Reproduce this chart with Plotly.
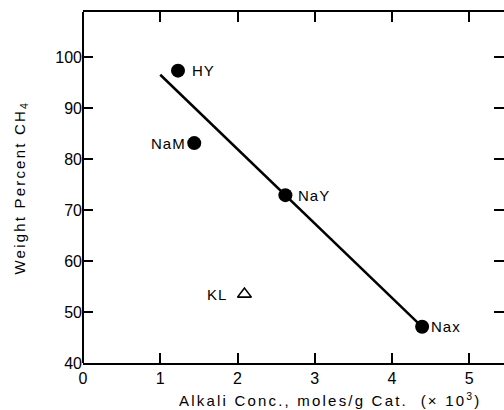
import plotly.graph_objects as go

# Data
names = ["HY", "NaM", "NaY", "Nax"]
alkali = [1.23, 1.44, 2.62, 4.39]
wt_ch4 = [97.3, 83.1, 72.9, 47.1]

kl_name = ["KL"]
kl_alkali = [2.09]
kl_wt = [53.5]

fit_x = [1.0, 4.39]
fit_y = [96.5, 47.1]

x_ticks = [0, 1, 2, 3, 4, 5]
y_ticks = [40, 50, 60, 70, 80, 90, 100]

x_title = "Alkali Conc., moles/g Cat.  (× 10<sup>3</sup>)"
y_title = "Weight Percent CH<sub>4</sub>"

label_side = ["right", "left", "right", "right"]
label_shift = [12, -6, 11, 7]

FONT = "Liberation Sans, Arial, Helvetica, sans-serif"


def spaced(t, ls):
    return '<span style="letter-spacing:%spx">%s</span>' % (ls, t)


fig = go.Figure()
fig.add_trace(go.Scatter(x=fit_x, y=fit_y, mode="lines",
                         line=dict(color="black", width=2.5), hoverinfo="skip"))
fig.add_trace(go.Scatter(x=alkali, y=wt_ch4, mode="markers",
                         marker=dict(color="black", size=14, symbol="circle")))
fig.add_trace(go.Scatter(x=kl_alkali, y=kl_wt, mode="markers",
                         marker=dict(color="black", size=12, symbol="triangle-up-open",
                                     line=dict(width=1.6, color="black"))))

annotations = []
for n, xv, yv, side, sh in zip(names, alkali, wt_ch4, label_side, label_shift):
    annotations.append(dict(x=xv, y=yv, text=spaced(n, 1), showarrow=False,
                            xanchor="left" if side == "right" else "right",
                            xshift=sh, font=dict(size=15, color="black", family=FONT)))
for n, xv, yv in zip(kl_name, kl_alkali, kl_wt):
    annotations.append(dict(x=xv, y=yv, text=spaced(n, 1), showarrow=False,
                            xanchor="right", xshift=-15,
                            font=dict(size=15, color="black", family=FONT)))

annotations.append(dict(x=0.587, y=0, xref="paper", yref="paper", yshift=-36,
                        text=spaced(x_title, 2.2),
                        showarrow=False, xanchor="center", yanchor="middle",
                        font=dict(size=15, color="black", family=FONT)))
annotations.append(dict(x=0, y=0.5, xref="paper", yref="paper", xshift=-63,
                        text=spaced(y_title, 2.2), textangle=-90,
                        showarrow=False, xanchor="center", yanchor="middle",
                        font=dict(size=15, color="black", family=FONT)))

fig.update_layout(
    width=504, height=410,
    margin=dict(l=83, r=0, t=12, b=47),
    paper_bgcolor="white", plot_bgcolor="white",
    showlegend=False,
    font=dict(family=FONT, color="black"),
    annotations=annotations,
    shapes=[dict(type="line", xref="paper", yref="paper", x0=0, x1=0, y0=0, y1=1,
                 line=dict(color="black", width=2))],
    xaxis=dict(range=[0, 5.45], tickvals=x_ticks, ticks="inside", ticklen=10,
               tickwidth=1.5, tickcolor="black", showline=True, linecolor="black",
               linewidth=2, mirror="ticks", showgrid=False, zeroline=False,
               tickfont=dict(size=16, color="black", family=FONT)),
    yaxis=dict(range=[40, 108.8], tickvals=y_ticks, ticks="inside", ticklen=10,
               tickwidth=1.5, tickcolor="black", showline=False,
               mirror="ticks", showgrid=False, zeroline=False,
               tickfont=dict(size=16, color="black", family=FONT)),
)

fig.write_html("out.html")
